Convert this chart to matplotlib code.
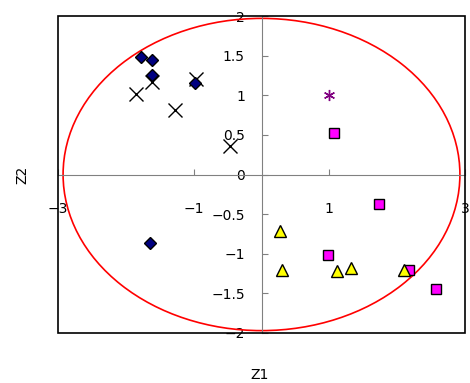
import numpy as np
import matplotlib; matplotlib.use('Agg')
import matplotlib.pyplot as plt
from matplotlib.patches import Ellipse, Rectangle

# group values
dia_x = [-1.78, -1.61, -1.61, -0.98, -1.64]
dia_y = [1.48, 1.45, 1.25, 1.16, -0.87]
crs_x = [-1.85, -1.62, -1.28, -0.97, -0.47]
crs_y = [1.02, 1.17, 0.82, 1.21, 0.36]
ast_x = [1.0]
ast_y = [1.0]
sq_x = [1.07, 1.73, 0.98, 2.18, 2.57]
sq_y = [0.52, -0.37, -1.01, -1.20, -1.44]
tri_x = [0.27, 0.30, 1.12, 1.32, 2.10]
tri_y = [-0.71, -1.20, -1.22, -1.18, -1.20]
ell_w, ell_h = 5.85, 3.94
xticks = [-3, -1, 1, 3]
yticks = [-2, -1.5, -1, -0.5, 0, 0.5, 1, 1.5, 2]

def fmt(t):
    return '\u2212' + f'{abs(t):g}' if t < 0 else f'{t:g}'

fig = plt.figure(figsize=(4.7, 3.83), dpi=100)
ax = fig.add_axes([58/470, 50/383, 407/470, 317/383])
ax.set_xlim(-3, 3); ax.set_ylim(-2, 2)

ax.add_patch(Ellipse((0, 0), ell_w, ell_h, fill=False, ec='#ff0000', lw=1.2, zorder=2))
ax.plot(crs_x, crs_y, 'x', color='black', ms=10, mew=1.0, ls='none', zorder=3)
ax.plot(dia_x, dia_y, 'D', mfc='#000080', mec='black', ms=6.3, mew=1.0, ls='none', zorder=4)
ax.plot(ast_x, ast_y, marker=(6, 2, 0), color='#800080', ms=8, mew=1.0, ls='none', zorder=4)
ax.plot(sq_x, sq_y, 's', mfc='#ff00ff', mec='black', ms=7.5, mew=1.0, ls='none', zorder=4)
ax.plot(tri_x, tri_y, '^', mfc='#ffff00', mec='black', ms=9, mew=1.0, ls='none', zorder=4)

for s in ['top', 'right']:
    ax.spines[s].set_visible(False)
ax.spines['left'].set_position(('data', 0))
ax.spines['bottom'].set_position(('data', 0))
ax.spines['left'].set_color('#808080')
ax.spines['bottom'].set_color('#808080')
ax.add_patch(Rectangle((0, 0), 1, 1, transform=ax.transAxes, fill=False, ec='black', lw=1.2, clip_on=False, zorder=5))

ax.set_xticks(xticks)
ax.set_xticklabels([fmt(t) for t in xticks])
ax.set_yticks(yticks)
ax.set_yticklabels([fmt(t) for t in yticks])
ax.tick_params(axis='x', direction='in', length=4.5, color='#808080', pad=20, labelsize=10)
ax.tick_params(axis='y', direction='in', length=4.5, color='#808080', pad=12, labelsize=10)
for lab in ax.get_xticklabels() + ax.get_yticklabels():
    lab.set_clip_on(False)

fig.text(260/470, 1 - 375/383, 'Z1', ha='center', va='center', fontsize=10)
fig.text(22/470, 1 - 175/383, 'Z2', ha='center', va='center', rotation=90, fontsize=10)

plt.savefig('out.png', dpi=100)
